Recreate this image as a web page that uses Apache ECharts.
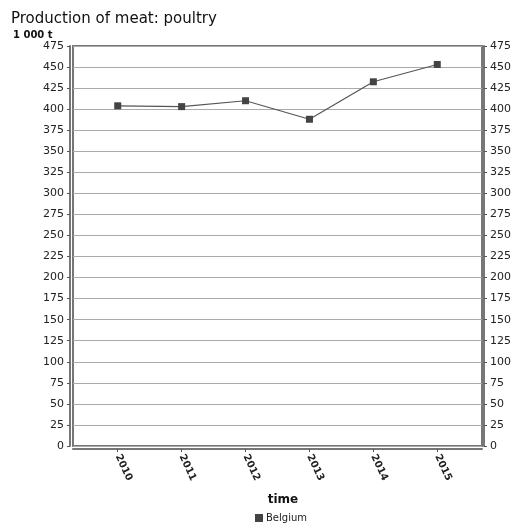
<!DOCTYPE html>
<html><head><meta charset="utf-8">
<script src="https://cdn.jsdelivr.net/npm/echarts@6/dist/echarts.min.js"></script>
<style>html,body{margin:0;padding:0;background:#fff}#c{width:516px;height:525px}</style>
</head><body><div id="c"></div>
<script>
const years = [2010, 2011, 2012, 2013, 2014, 2015];
const belgium = [404, 403, 410, 388, 432.5, 453];
const yTicks = [0,25,50,75,100,125,150,175,200,225,250,275,300,325,350,375,400,425,450,475];

const chart = echarts.init(document.getElementById('c'));
const font = 'DejaVu Sans';
const yAxisBase = {
  type: 'value', min: 0, max: 475, interval: 25,
  axisLine: {show: true, lineStyle: {color: '#777', width: 2}},
  axisTick: {show: true, length: 3, lineStyle: {color: '#555'}},
  axisLabel: {color: '#222', fontSize: 11, fontFamily: font, margin: 6},
  splitLine: {show: true, lineStyle: {color: '#aaa', width: 1}}
};
chart.setOption({
  animation: false,
  title: [
    {text: 'Production of meat: poultry', left: 6, top: 7,
     textStyle: {fontSize: 15, fontWeight: 'normal', color: '#111', fontFamily: font}},
    {text: '1 000 t', left: 8, top: 25,
     textStyle: {fontSize: 10, fontWeight: 'bold', color: '#111', fontFamily: font}},
    {text: 'time', left: 278, top: 489, textAlign: 'center',
     textStyle: {fontSize: 12, fontWeight: 'bold', color: '#111', fontFamily: font}}
  ],
  legend: {
    data: ['Belgium'], left: 250, top: 508, itemWidth: 8, itemHeight: 8, itemGap: 4,
    icon: 'rect',
    textStyle: {fontSize: 10, color: '#222', fontFamily: font, padding: [0,0,0,-2]}
  },
  grid: {left: 73, right: 34, top: 46, bottom: 79, show: true,
         borderColor: '#777', borderWidth: 2, containLabel: false},
  xAxis: {
    type: 'value', min: 2009.3, max: 2015.7,
    axisLine: {show: true, onZero: false, lineStyle: {color: '#777', width: 2}},
    offset: 3,
    axisTick: {show: true, customValues: years, length: 3, lineStyle: {color: '#555'}},
    axisLabel: {customValues: years, rotate: -65, fontSize: 10, fontWeight: 'bold',
                color: '#222', fontFamily: font, margin: 6,
                formatter: v => String(v)},
    splitLine: {show: false}
  },
  yAxis: [
    Object.assign({}, yAxisBase, {position: 'left', offset: 3}),
    Object.assign({}, yAxisBase, {position: 'right', offset: 2, splitLine: {show: false}})
  ],
  series: [{
    name: 'Belgium', type: 'line',
    data: years.map((y, i) => [y, belgium[i]]),
    symbol: 'rect', symbolSize: 7,
    itemStyle: {color: '#444'},
    lineStyle: {color: '#555', width: 1.2}
  }]
});
</script></body></html>
